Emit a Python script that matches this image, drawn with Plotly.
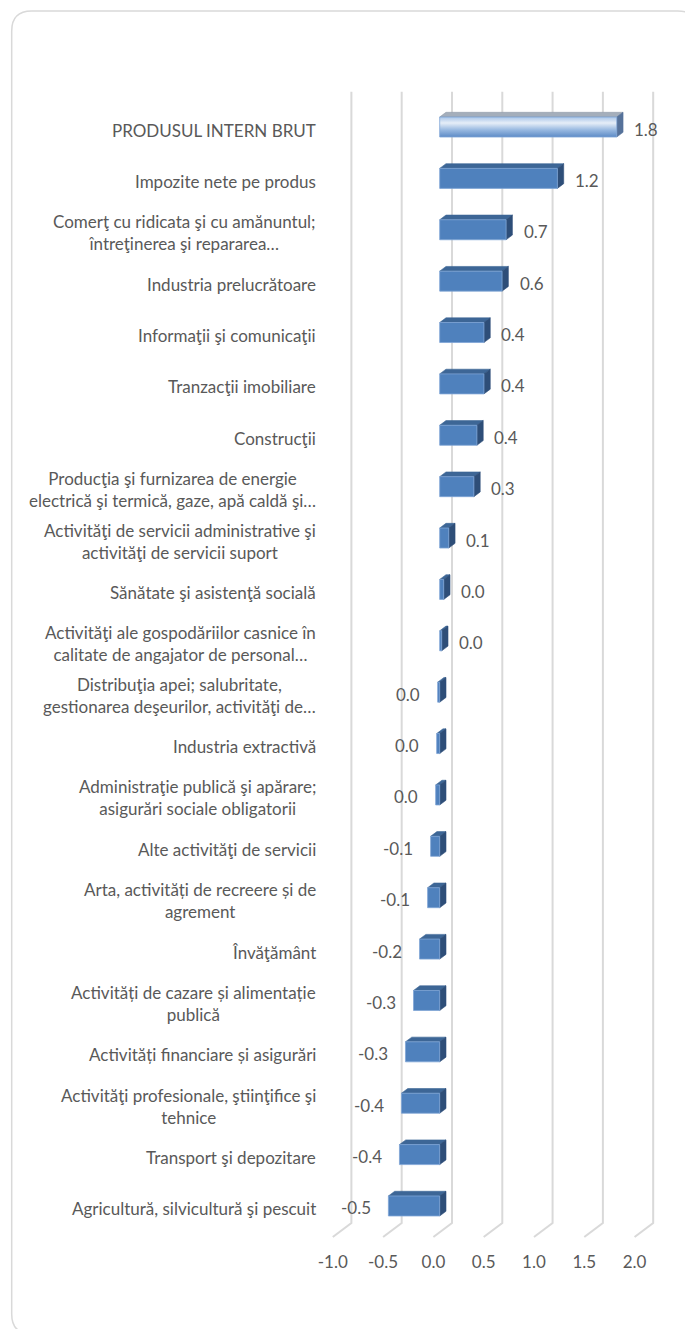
import plotly.graph_objects as go

# ---------------- data ----------------
categories = [
    "PRODUSUL INTERN BRUT",
    "Impozite nete pe produs",
    "Comerţ cu ridicata şi cu amănuntul;<br>întreţinerea şi repararea…",
    "Industria prelucrătoare",
    "Informaţii şi comunicaţii",
    "Tranzacţii imobiliare",
    "Construcţii",
    "Producţia şi furnizarea de energie<br>electrică şi termică, gaze, apă caldă şi…",
    "Activităţi de servicii administrative şi<br>activităţi de servicii suport",
    "Sănătate şi asistenţă socială",
    "Activităţi ale gospodăriilor casnice în<br>calitate de angajator de personal…",
    "Distribuţia apei; salubritate,<br>gestionarea deşeurilor, activităţi de…",
    "Industria extractivă",
    "Administraţie publică şi apărare;<br>asigurări sociale obligatorii",
    "Alte activităţi de servicii",
    "Arta, activități de recreere și de<br>agrement",
    "Învăţământ",
    "Activități de cazare și alimentație<br>publică",
    "Activități financiare și asigurări",
    "Activităţi profesionale, ştiinţifice şi<br>tehnice",
    "Transport şi depozitare",
    "Agricultură, silvicultură şi pescuit",
]
values = [1.76, 1.17, 0.66, 0.62, 0.44, 0.44, 0.37, 0.34, 0.09, 0.04, 0.02,
          -0.02, -0.03, -0.04, -0.09, -0.12, -0.20, -0.26, -0.34, -0.38, -0.40, -0.51]
x_ticks = [-1.0, -0.5, 0.0, 0.5, 1.0, 1.5, 2.0]
x_tick_text = ["-1.0", "-0.5", "0.0", "0.5", "1.0", "1.5", "2.0"]

# ---------------- geometry / style ----------------
W_FIG, H_FIG = 693, 1329
OFF = 8  # page body margin compensation
L, R, T, B = 324.3 - OFF, 661.3 - OFF, 85.0 - OFF, 1245.0 - OFF
X_RANGE = [-1.15, 2.2]
XS = (R - L) / (X_RANGE[1] - X_RANGE[0])          # px per x unit
YS = 51.38                                          # px per category
C0 = 127 - OFF                                      # first category centre (px)
N = len(categories)
Y_TOP = -(C0 - T) / YS
Y_BOT = (N - 1) + (B - (C0 + (N - 1) * YS)) / YS

BAR_H = 20 / YS
DX = 6.3 / XS
DY = -4.7 / YS
BACK_DX = 12.3 / XS
GRID_TOP = (91.7 - 127) / YS
GRID_BACK_BOT = (1223 - 127) / YS
GRID_FRONT_BOT = (1237 - 127) / YS

FONT = "Lato, Carlito, Calibri, sans-serif"
FS = 17
TXT = "#595959"
FRONT = "#4F81BD"
TOPC = "#3D6696"
SIDE = "#2E4E78"

fig = go.Figure()

# gridlines (back wall + floor diagonals)
gx, gy = [], []
for v in x_ticks:
    gx += [v + BACK_DX, v + BACK_DX, v - DX, None]
    gy += [GRID_TOP, GRID_BACK_BOT, GRID_FRONT_BOT, None]
fig.add_trace(go.Scatter(x=gx, y=gy, mode="lines",
                         line=dict(color="#D9D9D9", width=2),
                         hoverinfo="skip", showlegend=False))


def faces(i, v):
    x0, x1 = min(0, v), max(0, v)
    yt, yb = i - BAR_H / 2, i + BAR_H / 2
    front = ([x0, x1, x1, x0, x0], [yt, yt, yb, yb, yt])
    top = ([x0, x1, x1 + DX, x0 + DX, x0], [yt, yt, yt + DY, yt + DY, yt])
    side = ([x1, x1 + DX, x1 + DX, x1, x1], [yt, yt + DY, yb + DY, yb, yt])
    return front, top, side


fx, fy, tx, ty, sx, sy = [], [], [], [], [], []
for i, v in enumerate(values):
    front, top, side = faces(i, v)
    if i == 0:
        # highlighted total bar with gradient
        fig.add_trace(go.Scatter(x=top[0], y=top[1], fill="toself", mode="lines",
                                 fillcolor="#A4AEBB", line=dict(color="#8F9AA8", width=0.6),
                                 hoverinfo="skip", showlegend=False))
        fig.add_trace(go.Scatter(x=side[0], y=side[1], fill="toself", mode="lines",
                                 fillcolor="#56729A", line=dict(color="#56729A", width=0.6),
                                 hoverinfo="skip", showlegend=False))
        fig.add_trace(go.Scatter(
            x=front[0], y=front[1], fill="toself", mode="lines",
            fillcolor="#9DBCE3",
            fillgradient=dict(type="vertical",
                              colorscale=[[0, "#A9C5E8"], [0.3, "#E6EEF8"],
                                          [0.65, "#97B8E0"], [1, "#5D8BC6"]],
                              start=front[1][0], stop=front[1][2]),
            line=dict(color="#7FA5D6", width=0.8),
            hoverinfo="skip", showlegend=False))
        continue
    fx += front[0] + [None]; fy += front[1] + [None]
    tx += top[0] + [None]; ty += top[1] + [None]
    sx += side[0] + [None]; sy += side[1] + [None]

fig.add_trace(go.Scatter(x=tx, y=ty, fill="toself", mode="lines", fillcolor=TOPC,
                         line=dict(color=TOPC, width=0.6), hoverinfo="skip", showlegend=False))
fig.add_trace(go.Scatter(x=sx, y=sy, fill="toself", mode="lines", fillcolor=SIDE,
                         line=dict(color=SIDE, width=0.6), hoverinfo="skip", showlegend=False))
fig.add_trace(go.Scatter(x=fx, y=fy, fill="toself", mode="lines", fillcolor=FRONT,
                         line=dict(color="#7FA5D6", width=0.8), hoverinfo="skip", showlegend=False))

# data labels and category labels
LBL_OFF = 15.5 / XS
x_lab = (318 - OFF - L) / (R - L)
for i, (c, v) in enumerate(zip(categories, values)):
    s = f"{v:.1f}"
    if s == "-0.0":
        s = "0.0"
    if v >= 0:
        fig.add_annotation(x=v + LBL_OFF, y=i, text=s, showarrow=False, xanchor="left",
                           yanchor="middle", yshift=-2,
                           font=dict(family=FONT, size=FS, color=TXT))
    else:
        fig.add_annotation(x=v - LBL_OFF, y=i, text=s, showarrow=False, xanchor="right",
                           yanchor="middle", yshift=-2,
                           font=dict(family=FONT, size=FS, color=TXT))
    fig.add_annotation(x=x_lab, xref="paper", y=i, yref="y", text=c, showarrow=False,
                       xanchor="right", yanchor="middle", align="center", yshift=-3,
                       font=dict(family=FONT, size=FS, color=TXT))


# rounded chart border
def px(xp):
    return (xp - OFF - L) / (R - L)


def py(yp):
    return (B - (yp - OFF)) / (B - T)


x0b, y0b, x1b, y1b, rr = 12, 11, 698, 1334, 20
path = (f"M {px(x0b)},{py(y0b + rr)} Q {px(x0b)},{py(y0b)} {px(x0b + rr)},{py(y0b)} "
        f"L {px(x1b - rr)},{py(y0b)} Q {px(x1b)},{py(y0b)} {px(x1b)},{py(y0b + rr)} "
        f"L {px(x1b)},{py(y1b - rr)} Q {px(x1b)},{py(y1b)} {px(x1b - rr)},{py(y1b)} "
        f"L {px(x0b + rr)},{py(y1b)} Q {px(x0b)},{py(y1b)} {px(x0b)},{py(y1b - rr)} Z")
fig.add_shape(type="path", path=path, xref="paper", yref="paper",
              line=dict(color="#D9D9D9", width=1.5), layer="below")

fig.update_layout(
    width=W_FIG, height=H_FIG,
    margin=dict(l=L, r=W_FIG - R, t=T, b=H_FIG - B, pad=0),
    paper_bgcolor="white", plot_bgcolor="white",
    showlegend=False,
    xaxis=dict(range=X_RANGE, showgrid=False, zeroline=False, showline=False,
               tickvals=[v - DX for v in x_ticks], ticktext=x_tick_text,
               ticks="", ticklabelstandoff=5,
               tickfont=dict(family=FONT, size=FS, color=TXT), fixedrange=True),
    yaxis=dict(range=[Y_BOT, Y_TOP], showgrid=False, zeroline=False, showline=False,
               showticklabels=False, fixedrange=True),
)

fig.write_html("out.html")
